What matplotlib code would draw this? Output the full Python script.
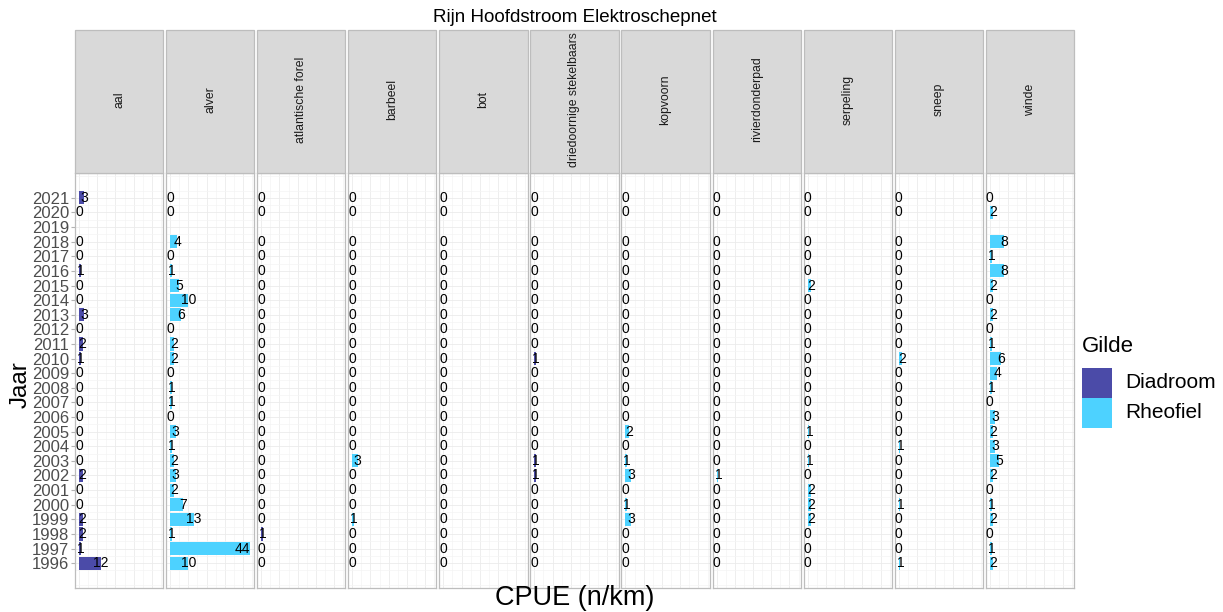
import numpy as np
import matplotlib
matplotlib.use("Agg")
import matplotlib.pyplot as plt
from matplotlib.patches import Rectangle

plt.rcParams['font.family'] = ['Liberation Sans', 'DejaVu Sans']

title = "Rijn Hoofdstroom Elektroschepnet"
years = list(range(2021, 1995, -1))  # top to bottom
species = ["aal", "alver", "atlantische forel", "barbeel", "bot",
           "driedoornige stekelbaars", "kopvoorn", "rivierdonderpad",
           "serpeling", "sneep", "winde"]
gilde = ["Diadroom", "Rheofiel", "Diadroom", "Rheofiel", "Diadroom",
         "Diadroom", "Rheofiel", "Rheofiel", "Rheofiel", "Rheofiel", "Rheofiel"]
N = np.nan
# values ordered 2021 ... 1996 (2019: no data)
aal      = [3, 0, N, 0, 0, 1, 0, 0, 3, 0, 2, 1, 0, 0, 0, 0, 0, 0, 0, 2, 0, 0, 2, 2, 1, 12]
alver    = [0, 0, N, 4, 0, 1, 5, 10, 6, 0, 2, 2, 0, 1, 1, 0, 3, 1, 2, 3, 2, 7, 13, 1, 44, 10]
atl_forel= [0, 0, N, 0, 0, 0, 0, 0, 0, 0, 0, 0, 0, 0, 0, 0, 0, 0, 0, 0, 0, 0, 0, 1, 0, 0]
barbeel  = [0, 0, N, 0, 0, 0, 0, 0, 0, 0, 0, 0, 0, 0, 0, 0, 0, 0, 3, 0, 0, 0, 1, 0, 0, 0]
bot      = [0, 0, N, 0, 0, 0, 0, 0, 0, 0, 0, 0, 0, 0, 0, 0, 0, 0, 0, 0, 0, 0, 0, 0, 0, 0]
driedoorn= [0, 0, N, 0, 0, 0, 0, 0, 0, 0, 0, 1, 0, 0, 0, 0, 0, 0, 1, 1, 0, 0, 0, 0, 0, 0]
kopvoorn = [0, 0, N, 0, 0, 0, 0, 0, 0, 0, 0, 0, 0, 0, 0, 0, 2, 0, 1, 3, 0, 1, 3, 0, 0, 0]
rivierd  = [0, 0, N, 0, 0, 0, 0, 0, 0, 0, 0, 0, 0, 0, 0, 0, 0, 0, 0, 1, 0, 0, 0, 0, 0, 0]
serpeling= [0, 0, N, 0, 0, 0, 2, 0, 0, 0, 0, 0, 0, 0, 0, 0, 1, 0, 1, 0, 2, 2, 2, 0, 0, 0]
sneep    = [0, 0, N, 0, 0, 0, 0, 0, 0, 0, 0, 2, 0, 0, 0, 0, 0, 1, 0, 0, 0, 1, 0, 0, 0, 1]
winde    = [0, 2, N, 8, 1, 8, 2, 0, 2, 0, 1, 6, 4, 1, 0, 3, 2, 3, 5, 2, 0, 1, 2, 0, 1, 2]
values = [aal, alver, atl_forel, barbeel, bot, driedoorn, kopvoorn, rivierd,
          serpeling, sneep, winde]
legend_labels = ["Diadroom", "Rheofiel"]
colors = {"Diadroom": "#4B4BA8", "Rheofiel": "#4DD2FF"}

W, H = 1223, 612
fig = plt.figure(figsize=(W / 100, H / 100), dpi=100)

left0, right_end = 75, 1074
gap = 2.8
pw = (right_end - left0 - gap * 10) / 11
ptop, pbot = 173, 588
stop = 30

xmax_all = np.nanmax([np.nanmax(v) for v in values])
xlim = (-0.05 * xmax_all, 1.05 * xmax_all)
ny = len(years)
ypos = np.arange(ny)[::-1] + 1  # 2021 at top

for i, (sp, vals) in enumerate(zip(species, values)):
    x0 = left0 + i * (pw + gap)
    ax = fig.add_axes([x0 / W, (H - pbot) / H, pw / W, (pbot - ptop) / H])
    ax.set_xlim(*xlim)
    ax.set_ylim(1 - 1.7, ny + 1.7)
    ax.set_xticks(np.arange(0, 50, 10))
    ax.set_xticks(np.arange(5, 50, 10), minor=True)
    ax.set_yticks(ypos)
    ax.set_yticks(np.arange(-0.5, ny + 2, 1), minor=True)
    ax.grid(True, which='major', color='#EBEBEB', lw=0.6)
    ax.grid(True, which='minor', color='#F4F4F4', lw=0.5)
    ax.set_axisbelow(True)
    ax.tick_params(axis='x', which='both', length=0, labelbottom=False)
    ax.tick_params(axis='y', which='minor', length=0)
    if i == 0:
        ax.set_yticklabels([str(y) for y in years], fontsize=12, color='#4D4D4D')
        ax.tick_params(axis='y', which='major', length=3, color='#B3B3B3', pad=1)
    else:
        ax.tick_params(axis='y', which='major', length=0, labelleft=False)
    for s in ax.spines.values():
        s.set_color('#BDBDBD')
        s.set_linewidth(0.9)
    v = np.array(vals, dtype=float)
    mask = ~np.isnan(v)
    ax.barh(ypos[mask], v[mask], height=0.9, color=colors[gilde[i]], zorder=2)
    for yp, val in zip(ypos[mask], v[mask]):
        ha = 'right' if val >= 0.9 * xmax_all else 'center'
        ax.text(val, yp, f"{val:.0f}", ha=ha, va='center', fontsize=10,
                color='black', zorder=3)
    # strip
    fig.add_artist(Rectangle((x0 / W, (H - ptop) / H), pw / W, (ptop - stop) / H,
                             transform=fig.transFigure, facecolor='#D9D9D9',
                             edgecolor='#BDBDBD', lw=0.9))
    fig.text((x0 + pw / 2) / W, (H - (ptop + stop) / 2 + 2) / H, sp, rotation=90,
             ha='center', va='center', fontsize=8.8, color='#1A1A1A')

fig.text((left0 + right_end) / 2 / W, (H - 18) / H, title, ha='center',
         va='center', fontsize=13.5)
fig.text((left0 + right_end) / 2 / W, (H - 605) / H, "CPUE (n/km)",
         ha='center', va='baseline', fontsize=19.5)
fig.text(21 / W, (H - 385) / H, "Jaar", rotation=90,
         ha='center', va='center', fontsize=17.5)

# legend
fig.text(1082 / W, (H - 346) / H, "Gilde", ha='left', va='center', fontsize=16)
for k, lab in enumerate(legend_labels):
    ytop = 368 + 30 * k
    fig.add_artist(Rectangle((1082 / W, (H - ytop - 30) / H), 30 / W, 30 / H,
                             transform=fig.transFigure,
                             facecolor=colors[lab], edgecolor='none'))
    fig.text(1125 / W, (H - ytop - 15) / H, lab, ha='left', va='center',
             fontsize=15)

fig.savefig("out.png", dpi=100)
